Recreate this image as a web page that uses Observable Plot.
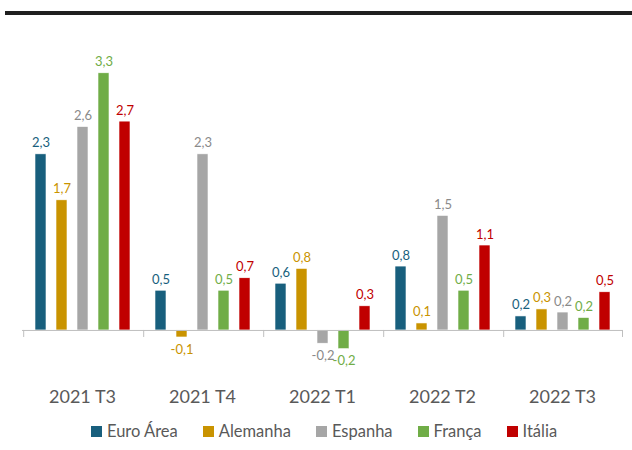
<!DOCTYPE html>
<html>
<head>
<meta charset="utf-8">
<script src="https://cdn.jsdelivr.net/npm/d3@7"></script>
<script src="https://cdn.jsdelivr.net/npm/@observablehq/plot@0.6"></script>
<style>
  body { margin: 0; background: #fff; font-family: Lato, "Open Sans", sans-serif; }
  #wrap { position: relative; width: 632px; height: 450px; overflow: hidden; }
  #chart { position: absolute; left: 0; top: 0; }
  #topline { position: absolute; left: 5px; top: 11px; width: 627px; height: 4px; background: #1f1f1f; }
  #legend { position: absolute; left: 91px; top: 420px; display: flex; align-items: center; height: 22px; }
  .item { display: flex; align-items: center; margin-right: 25px; font-size: 16.5px; color: #595959; }
  .sw { width: 11px; height: 11px; margin-right: 5px; }
</style>
</head>
<body>
<div id="wrap">
  <div id="chart"></div>
  <div id="topline"></div>
  <div id="legend"></div>
</div>
<script>
const periods = ["2021 T3", "2021 T4", "2022 T1", "2022 T2", "2022 T3"];
const series = ["Euro Área", "Alemanha", "Espanha", "França", "Itália"];
const euroArea = [2.26, 0.51, 0.60, 0.82, 0.18];
const alemanha = [1.67, -0.09, 0.79, 0.09, 0.27];
const espanha  = [2.61, 2.26, -0.17, 1.47, 0.23];
const franca   = [3.30, 0.51, -0.24, 0.51, 0.16];
const italia   = [2.68, 0.67, 0.31, 1.09, 0.49];
const colors      = ["#185f7d", "#c99300", "#a6a6a6", "#70ad47", "#c00000"];
const labelColors = ["#185f7d", "#c99300", "#8a8a8a", "#70ad47", "#c00000"];

const valuesBySeries = [euroArea, alemanha, espanha, franca, italia];
const data = [];
periods.forEach((p, i) => {
  series.forEach((s, j) => {
    data.push({period: p, series: s, value: valuesBySeries[j][i]});
  });
});
const fmt = v => v.toFixed(1).replace(".", ",");
const pos = data.filter(d => d.value >= 0);
const neg = data.filter(d => d.value < 0);

const plot = Plot.plot({
  width: 632,
  height: 410,
  marginLeft: 22,
  marginRight: 10,
  marginTop: 65,
  marginBottom: 30,
  style: {background: "transparent", fontFamily: "Lato, 'Open Sans', sans-serif"},
  fx: {domain: periods, padding: 0},
  x: {domain: series, paddingInner: 0.5, paddingOuter: 0.56, axis: null},
  y: {domain: [-0.642, 3.4], axis: null},
  color: {domain: series, range: colors},
  marks: [
    Plot.barY(data, {fx: "period", x: "series", y: "value", fill: "series", stroke: "#ffffff", strokeWidth: 0.6}),
    Plot.ruleY([0], {stroke: "#bfbfbf", strokeWidth: 1}),
    Plot.ruleX(periods, {fx: d => d, x: () => series[0], y1: 0, y2: -0.09, dx: -17.3, stroke: "#bfbfbf"}),
    Plot.ruleX([periods[periods.length - 1]], {fx: d => d, x: () => series[series.length - 1], y1: 0, y2: -0.09, dx: 17.5, stroke: "#bfbfbf"}),
    Plot.text(pos, {fx: "period", x: "series", y: "value", text: d => fmt(d.value), lineAnchor: "bottom", dy: -7, fontSize: 13,
      fill: d => labelColors[series.indexOf(d.series)]}),
    Plot.text(neg, {fx: "period", x: "series", y: "value", text: d => fmt(d.value), lineAnchor: "top", dy: 7, fontSize: 13,
      fill: d => labelColors[series.indexOf(d.series)]}),
    Plot.axisFx({anchor: "bottom", tickSize: 0, tickPadding: 10, fontSize: 18, fill: "#595959", label: null})
  ]
});
document.getElementById("chart").appendChild(plot);

const legend = document.getElementById("legend");
series.forEach((s, j) => {
  const item = document.createElement("div");
  item.className = "item";
  const sw = document.createElement("span");
  sw.className = "sw";
  sw.style.background = colors[j];
  const t = document.createElement("span");
  t.textContent = s;
  item.appendChild(sw);
  item.appendChild(t);
  legend.appendChild(item);
});
</script>
</body>
</html>
